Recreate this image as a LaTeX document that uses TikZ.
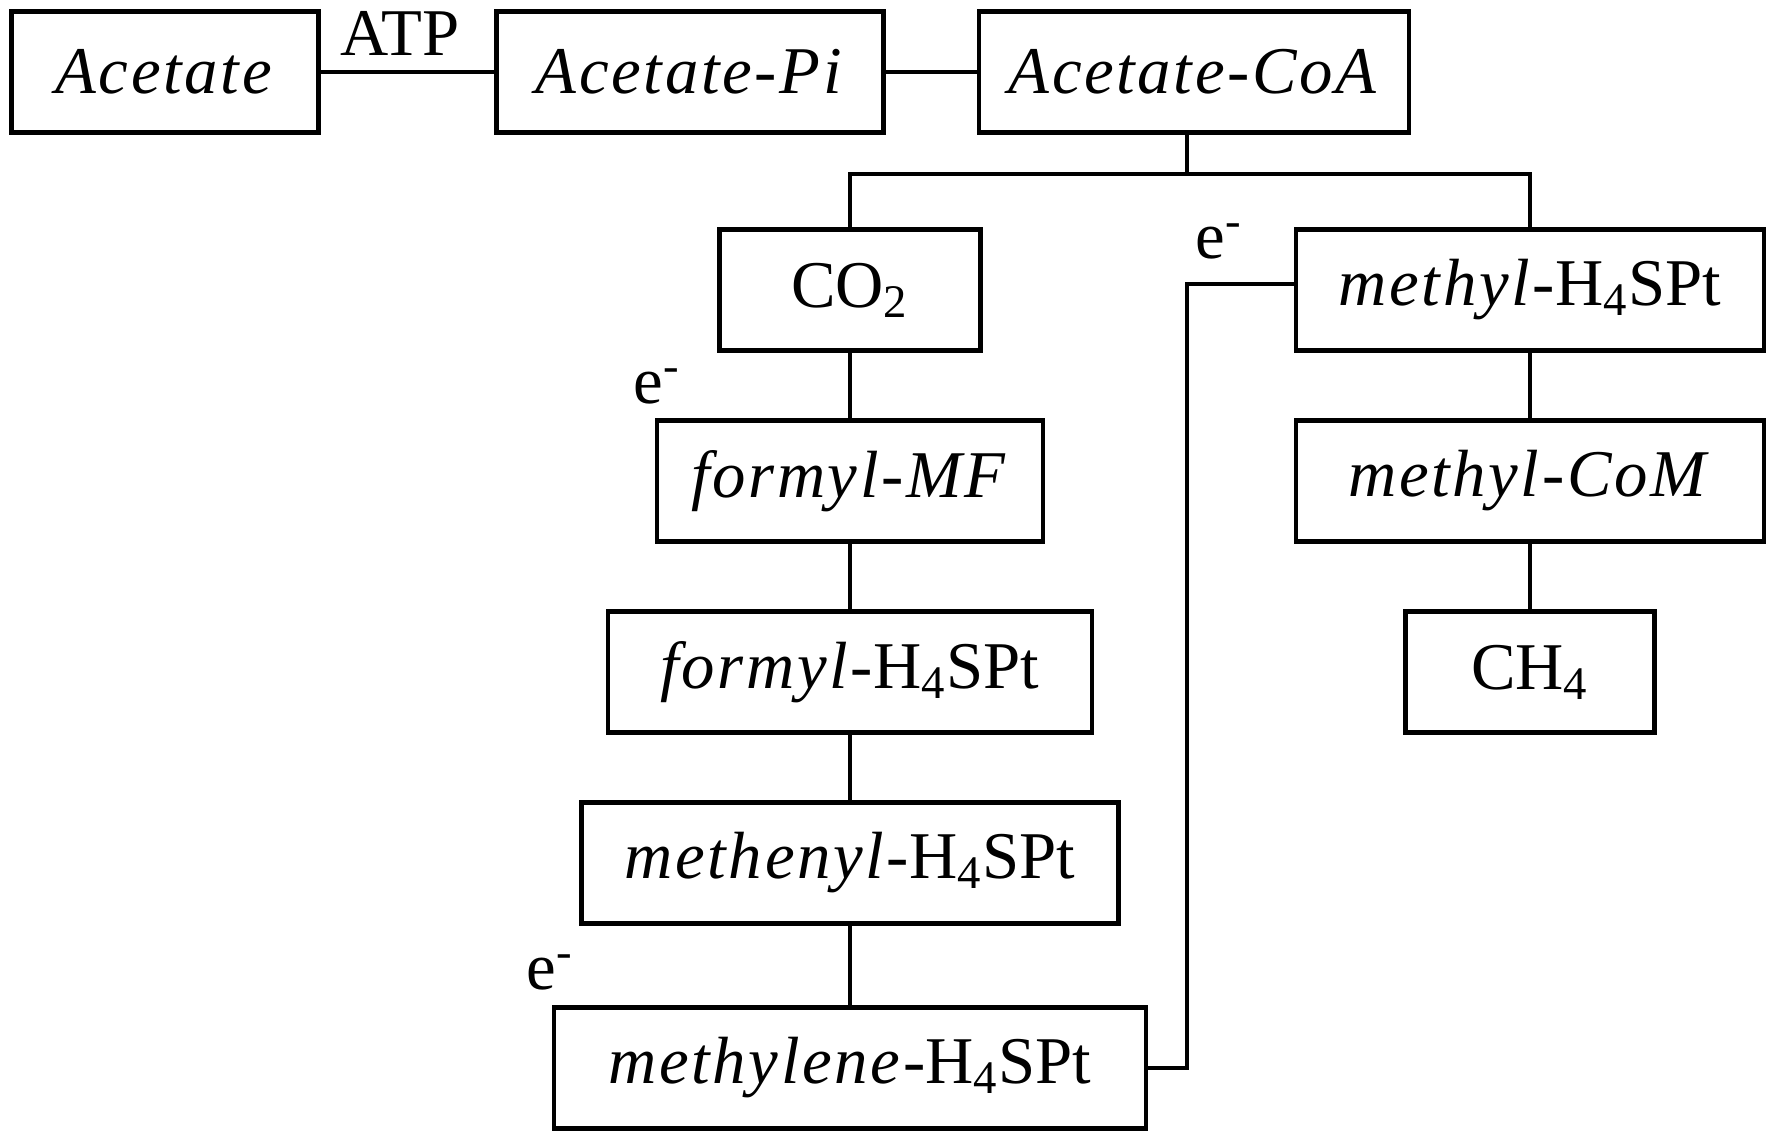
\documentclass[tikz,border=0pt]{standalone}
\usepackage{fontspec}
\setmainfont{Liberation Serif}[ItalicFeatures={LetterSpace=4}]
\tikzset{
  stage/.style={draw, line width=1.2pt, minimum height=1.21cm, inner sep=0pt, font=\fontsize{19}{22}\selectfont},
  link/.style={line width=0.9pt},
  tag/.style={inner sep=0pt, font=\fontsize{19}{22}\selectfont}
}
\begin{document}
\begin{tikzpicture}
        \useasboundingbox (0,0) rectangle (17.72,-11.34);

        \node[stage, minimum width=3.07cm] (acetate) at (1.65,-0.72) {\textit{Acetate}};
        \node[stage, minimum width=3.87cm] (pi) at (6.90,-0.72) {\textit{Acetate-Pi}};
        \node[stage, minimum width=4.30cm] (coa) at (11.94,-0.72) {\textit{Acetate-CoA}};
        \node[stage, minimum width=2.61cm] (co2) at (8.50,-2.90) {CO\textsubscript{2}};
        \node[stage, minimum width=3.86cm] (fmf) at (8.50,-4.81) {\textit{formyl-MF}};
        \node[stage, minimum width=4.84cm] (fh4) at (8.50,-6.72) {\textit{formyl}-H\textsubscript{4}SPt};
        \node[stage, minimum width=5.37cm] (menyl) at (8.50,-8.63) {\textit{methenyl}-H\textsubscript{4}SPt};
        \node[stage, minimum width=5.92cm] (mlene) at (8.50,-10.68) {\textit{methylene}-H\textsubscript{4}SPt};
        \node[stage, minimum width=4.68cm] (mh4) at (15.30,-2.90) {\textit{methyl}-H\textsubscript{4}SPt};
        \node[stage, minimum width=4.68cm] (mcom) at (15.30,-4.81) {\textit{methyl-CoM}};
        \node[stage, minimum width=2.49cm] (ch4) at (15.30,-6.72) {CH\textsubscript{4}};

        \node[tag] (atp) at (4.00,-0.33) {ATP};
        \node[tag] (e1) at (6.57,-3.86) {e\textsuperscript{-}};
        \node[tag] (e2) at (5.50,-9.72) {e\textsuperscript{-}};
        \node[tag] (e3) at (12.19,-2.41) {e\textsuperscript{-}};

        \coordinate (fork) at (11.87,-1.74);
        \coordinate (back) at (11.87,-2.84);

        \draw[link] (acetate) -- (pi);
        \draw[link] (pi) -- (coa);
        \draw[link] (fork |- coa.south) -- (fork);
        \draw[link] (co2.north) |- (fork) -| (mh4.north);
        \draw[link] (co2) -- (fmf);
        \draw[link] (fmf) -- (fh4);
        \draw[link] (fh4) -- (menyl);
        \draw[link] (menyl) -- (mlene);
        \draw[link] (mlene.east) -| (back) -- (back -| mh4.west);
        \draw[link] (mh4) -- (mcom);
        \draw[link] (mcom) -- (ch4);
\end{tikzpicture}
\end{document}
